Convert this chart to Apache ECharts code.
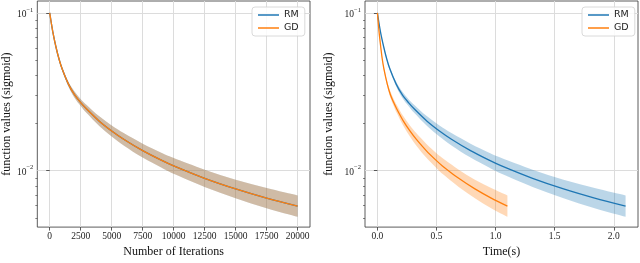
<!DOCTYPE html>
<html>
<head>
<meta charset="utf-8">
<script src="https://cdn.jsdelivr.net/npm/echarts@6/dist/echarts.min.js"></script>
<style>
html,body{margin:0;padding:0;background:#fff;}
#chart{width:640px;height:263px;}
</style>
</head>
<body>
<div id="chart"></div>
<script>
// ---- data ----
const iterations = [0, 250, 500, 750, 1000, 1500, 2000, 2500, 3000, 4000, 5000, 6000, 7500, 9000, 10000, 12500, 15000, 17500, 20000];
const rmTime = [0, 0.026, 0.053, 0.079, 0.105, 0.158, 0.21, 0.263, 0.315, 0.42, 0.525, 0.63, 0.788, 0.945, 1.05, 1.313, 1.575, 1.838, 2.1];
const gdTime = [0, 0.014, 0.028, 0.041, 0.055, 0.083, 0.11, 0.138, 0.165, 0.22, 0.275, 0.33, 0.413, 0.495, 0.55, 0.688, 0.825, 0.963, 1.1];
const rmMean  = [0.1, 0.0758, 0.0610, 0.0510, 0.0442, 0.0355, 0.0303, 0.0270, 0.0245, 0.0206, 0.01786, 0.01577, 0.01340, 0.01166, 0.01072, 0.00894, 0.00766, 0.00670, 0.00596];
const rmUpper = [0.1, 0.0765, 0.0620, 0.0521, 0.0453, 0.0367, 0.0317, 0.0284, 0.0260, 0.0221, 0.01936, 0.01725, 0.01483, 0.01299, 0.01203, 0.01015, 0.00877, 0.00776, 0.00697];
const rmLower = [0.1, 0.0751, 0.0600, 0.0500, 0.0431, 0.0343, 0.0290, 0.0257, 0.0231, 0.0192, 0.01648, 0.01441, 0.01211, 0.01046, 0.00955, 0.00788, 0.00669, 0.00578, 0.00510];
const gdMean  = [0.1, 0.0758, 0.0610, 0.0510, 0.0442, 0.0355, 0.0303, 0.0270, 0.0245, 0.0206, 0.01786, 0.01577, 0.01340, 0.01166, 0.01072, 0.00894, 0.00766, 0.00670, 0.00596];
const gdUpper = [0.1, 0.0765, 0.0620, 0.0521, 0.0453, 0.0367, 0.0317, 0.0284, 0.0260, 0.0221, 0.01936, 0.01725, 0.01483, 0.01299, 0.01203, 0.01015, 0.00877, 0.00776, 0.00697];
const gdLower = [0.1, 0.0751, 0.0600, 0.0500, 0.0431, 0.0343, 0.0290, 0.0257, 0.0231, 0.0192, 0.01648, 0.01441, 0.01211, 0.01046, 0.00955, 0.00788, 0.00669, 0.00578, 0.00510];
const iterTicks = [0, 2500, 5000, 7500, 10000, 12500, 15000, 17500, 20000];
const timeTicks = [0, 0.5, 1.0, 1.5, 2.0];
const yMajorTicks = [0.01, 0.1];
const yMinorTicks = [0.005, 0.006, 0.007, 0.008, 0.009, 0.02, 0.03, 0.04, 0.05, 0.06, 0.07, 0.08, 0.09];
const seriesNames = ['RM', 'GD'];
const xNames = ['Number of Iterations', 'Time(s)'];
const yName = 'function values (sigmoid)';

// ---- styling ----
const BLUE = '#1f77b4', ORANGE = '#ff7f0e';
const SERIF = '"Liberation Serif", "DejaVu Serif", serif';
const SANS = '"DejaVu Sans", sans-serif';
const Y_MIN = Math.pow(10, -2.3577), Y_MAX = Math.pow(10, -0.9247);

function pairs(xs, ys) { return xs.map((x, i) => [x, ys[i]]); }

// Catmull-Rom style smooth path through pixel points (already mapped by the axes)
function curveSegs(pts) {
  let d = '';
  for (let i = 0; i < pts.length - 1; i++) {
    const p0 = pts[i - 1] || pts[i], p1 = pts[i], p2 = pts[i + 1], p3 = pts[i + 2] || pts[i + 1];
    const c1 = [p1[0] + (p2[0] - p0[0]) / 6, p1[1] + (p2[1] - p0[1]) / 6];
    const c2 = [p2[0] - (p3[0] - p1[0]) / 6, p2[1] - (p3[1] - p1[1]) / 6];
    d += ' C' + c1[0] + ' ' + c1[1] + ' ' + c2[0] + ' ' + c2[1] + ' ' + p2[0] + ' ' + p2[1];
  }
  return d;
}

function band(name, xs, lo, hi, color, gi) {
  return {
    name: name + ' band', type: 'custom', coordinateSystem: 'cartesian2d',
    xAxisIndex: gi, yAxisIndex: gi * 2, silent: true, z: 1,
    data: xs.map((x, i) => [x, lo[i], hi[i]]),
    encode: { x: 0, y: [1, 2] },
    renderItem: function (params, api) {
      if (params.dataIndex !== 0) return null;
      const up = xs.map((x, i) => api.coord([x, hi[i]]));
      const dn = xs.map((x, i) => api.coord([x, lo[i]])).reverse();
      let d = 'M' + up[0][0] + ' ' + up[0][1] + curveSegs(up);
      d += ' L' + dn[0][0] + ' ' + dn[0][1] + curveSegs(dn) + ' Z';
      return { type: 'path', shape: { pathData: d }, style: { fill: color, opacity: 0.3, stroke: null } };
    }
  };
}
function line(name, xs, ys, color, gi) {
  return { name: name, type: 'line', xAxisIndex: gi, yAxisIndex: gi * 2, data: pairs(xs, ys),
    symbol: 'none', smooth: 0.3, lineStyle: { color: color, width: 1.3 }, itemStyle: { color: color }, z: 3 };
}

function xAxis(gi, min, max, ticks, fmt, name) {
  return {
    gridIndex: gi, type: 'value', min: min, max: max,
    axisLine: { show: false },
    axisTick: { show: true, customValues: ticks, length: 3.5, lineStyle: { color: '#333', width: 0.8 } },
    axisLabel: { customValues: ticks, formatter: fmt, fontFamily: SERIF, fontSize: 9.5, color: '#222', margin: 4 },
    splitLine: { show: true, lineStyle: { color: '#dcdcdc', width: 1 } },
    name: name, nameLocation: 'middle', nameGap: 13,
    nameTextStyle: { fontFamily: SERIF, fontSize: 12, color: '#111', verticalAlign: 'top' }
  };
}
function yAxes(gi, nameGap) {
  return [{
    gridIndex: gi, type: 'log', logBase: 10, min: Y_MIN, max: Y_MAX, position: 'left',
    axisLine: { show: false },
    axisTick: { show: true, customValues: yMajorTicks, length: 3.5, lineStyle: { color: '#333', width: 0.8 } },
    axisLabel: {
      customValues: yMajorTicks, margin: 4,
      formatter: function (v) {
        const e = Math.round(Math.log10(v));
        return '{b|10}{s|\u2212' + Math.abs(e) + '}';
      },
      rich: {
        b: { fontFamily: SERIF, fontSize: 9.5, color: '#222', verticalAlign: 'bottom', lineHeight: 13 },
        s: { fontFamily: SERIF, fontSize: 6.5, color: '#222', verticalAlign: 'top', lineHeight: 13, padding: [0, 0, 5, 0] }
      }
    },
    splitLine: { show: true, lineStyle: { color: '#dcdcdc', width: 1 } },
    name: yName, nameLocation: 'middle', nameGap: nameGap,
    nameTextStyle: { fontFamily: SERIF, fontSize: 12, color: '#111' }
  }, {
    gridIndex: gi, type: 'log', logBase: 10, min: Y_MIN, max: Y_MAX, position: 'left', offset: 0,
    axisLine: { show: false },
    axisTick: { show: true, customValues: yMinorTicks, length: 2, lineStyle: { color: '#333', width: 0.6 } },
    axisLabel: { show: false },
    splitLine: { show: false }
  }];
}
function legend(left) {
  return {
    left: left, top: 7, orient: 'vertical', data: seriesNames,
    icon: 'rect', itemWidth: 21, itemHeight: 1.5, itemGap: 3,
    padding: [3, 6, 3, 6], borderColor: '#d0d0d0', borderWidth: 0.8, borderRadius: 3,
    backgroundColor: 'rgba(255,255,255,0.85)',
    textStyle: { fontFamily: SANS, fontSize: 9.5, color: '#222' },
    selectedMode: false
  };
}

const option = {
  animation: false,
  backgroundColor: '#fff',
  grid: [
    { left: 36, top: 1, width: 274, height: 234, show: true, borderColor: '#333', borderWidth: 0.8, backgroundColor: 'transparent' },
    { left: 365, top: 1, width: 273, height: 234, show: true, borderColor: '#333', borderWidth: 0.8, backgroundColor: 'transparent' }
  ],
  xAxis: [
    xAxis(0, -1000, 21000, iterTicks, v => String(v), xNames[0]),
    xAxis(1, -0.105, 2.205, timeTicks, v => v.toFixed(1), xNames[1])
  ],
  yAxis: yAxes(0, 22).concat(yAxes(1, 30)),
  legend: [legend(252), legend(582)],
  series: [
    band('RM', iterations, rmLower, rmUpper, BLUE, 0),
    band('GD', iterations, gdLower, gdUpper, ORANGE, 0),
    line('RM', iterations, rmMean, BLUE, 0),
    line('GD', iterations, gdMean, ORANGE, 0),
    band('RM', rmTime, rmLower, rmUpper, BLUE, 1),
    band('GD', gdTime, gdLower, gdUpper, ORANGE, 1),
    line('RM', rmTime, rmMean, BLUE, 1),
    line('GD', gdTime, gdMean, ORANGE, 1)
  ]
};

const chart = echarts.init(document.getElementById('chart'), null, { renderer: 'canvas' });
chart.setOption(option);
</script>
</body>
</html>
